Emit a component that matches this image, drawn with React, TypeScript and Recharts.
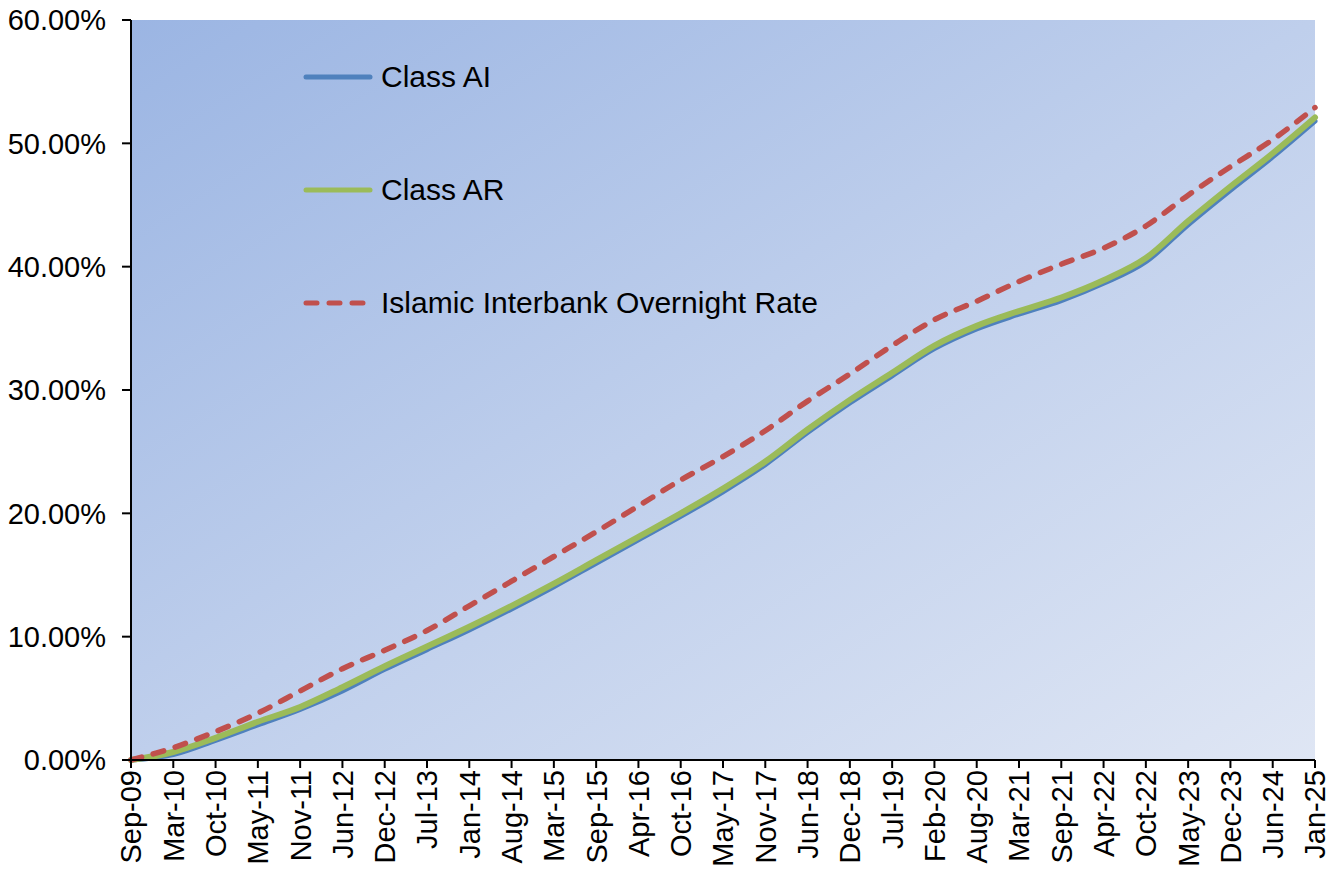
import { LineChart, Line, XAxis, YAxis, CartesianGrid, Legend } from "recharts";

const months = [
  "Sep-09", "Mar-10", "Oct-10", "May-11", "Nov-11", "Jun-12", "Dec-12", "Jul-13",
  "Jan-14", "Aug-14", "Mar-15", "Sep-15", "Apr-16", "Oct-16", "May-17", "Nov-17",
  "Jun-18", "Dec-18", "Jul-19", "Feb-20", "Aug-20", "Mar-21", "Sep-21", "Apr-22",
  "Oct-22", "May-23", "Dec-23", "Jun-24", "Jan-25",
];

// cumulative returns, in %
const classAI = [
  0, 0.45, 1.6, 2.85, 4.1, 5.6, 7.35, 8.95,
  10.55, 12.25, 14.05, 15.95, 17.85, 19.75, 21.75, 23.95,
  26.55, 28.95, 31.15, 33.35, 34.95, 36.15, 37.25, 38.65,
  40.4, 43.4, 46.2, 48.9, 51.8,
];

const classAR = [
  0, 0.65, 1.8, 3.1, 4.3, 5.9, 7.6, 9.2,
  10.8, 12.5, 14.3, 16.2, 18.1, 20.0, 22.0, 24.2,
  26.8, 29.2, 31.4, 33.6, 35.2, 36.4, 37.5, 38.9,
  40.7, 43.7, 46.5, 49.2, 52.1,
];

const iior = [
  0, 1.0, 2.3, 3.8, 5.6, 7.4, 8.9, 10.5,
  12.5, 14.5, 16.5, 18.5, 20.6, 22.7, 24.6, 26.7,
  29.1, 31.3, 33.6, 35.7, 37.2, 38.8, 40.2, 41.5,
  43.3, 45.8, 48.1, 50.3, 52.9,
];

const yTicks = [0, 10, 20, 30, 40, 50, 60];

const series = [
  { key: "ai", name: "Class AI", color: "#4f81bd", width: 5, dash: undefined },
  { key: "ar", name: "Class AR", color: "#9bbb59", width: 6, dash: undefined },
  { key: "iior", name: "Islamic Interbank Overnight Rate", color: "#c0504d", width: 5.5, dash: "11 12" },
];

const data = months.map((m, i) => ({
  month: m,
  ai: classAI[i],
  ar: classAR[i],
  iior: iior[i],
}));

const FONT = "'Liberation Sans', Arial, sans-serif";

function MonthTick(props: any) {
  const { x, y, payload } = props;
  return (
    <g transform={`translate(${x},${y})`}>
      <text
        transform="rotate(-90)"
        textAnchor="end"
        dy="0.36em"
        fontSize={29}
        fontFamily={FONT}
        fill="#000"
      >
        {payload.value}
      </text>
    </g>
  );
}

function LegendBox() {
  return (
    <div style={{ fontFamily: FONT, fontSize: 30, color: "#000" }}>
      {series.map((s) => (
        <div key={s.key} style={{ display: "flex", alignItems: "center", height: 32, marginBottom: 81 }}>
          <svg width={70} height={10}>
            <line
              x1={3}
              y1={5}
              x2={s.dash ? 63 : 67}
              y2={5}
              stroke={s.color}
              strokeWidth={5}
              strokeLinecap="round"
              strokeDasharray={s.dash}
            />
          </svg>
          <span style={{ marginLeft: 8, whiteSpace: "nowrap" }}>{s.name}</span>
        </div>
      ))}
    </div>
  );
}

export default function App() {
  return (
    <div style={{ position: "fixed", left: 0, top: 0, background: "#fff" }}>
      <LineChart
        width={1339}
        height={872}
        data={data}
        margin={{ top: 20, right: 24, left: 0, bottom: 0 }}
      >
        <defs>
          <linearGradient id="plotBg" x1="0" y1="0" x2="1" y2="1">
            <stop offset="0%" stopColor="#9bb5e3" />
            <stop offset="50%" stopColor="#bfcfec" />
            <stop offset="100%" stopColor="#dfe6f4" />
          </linearGradient>
        </defs>
        <CartesianGrid horizontal={false} vertical={false} fill="url(#plotBg)" />
        <XAxis
          dataKey="month"
          interval={0}
          height={112}
          tick={<MonthTick />}
          tickSize={8}
          tickMargin={2}
          axisLine={{ stroke: "#000", strokeWidth: 2 }}
          tickLine={{ stroke: "#000", strokeWidth: 2 }}
        />
        <YAxis
          width={131}
          domain={[0, 60]}
          ticks={yTicks}
          tickFormatter={(v: number) => `${v.toFixed(2)}%`}
          tickSize={9}
          tickMargin={16}
          tick={{ fill: "#000", fontSize: 29, fontFamily: FONT }}
          axisLine={{ stroke: "#000", strokeWidth: 2 }}
          tickLine={{ stroke: "#000", strokeWidth: 2 }}
        />
        <Legend
          layout="vertical"
          align="center"
          verticalAlign="middle"
          content={<LegendBox />}
          wrapperStyle={{ left: 303, top: 61, width: "auto" }}
        />
        {series.map((s) => (
          <Line
            key={s.key}
            type="monotone"
            dataKey={s.key}
            name={s.name}
            stroke={s.color}
            strokeWidth={s.width}
            strokeDasharray={s.dash}
            strokeLinecap="round"
            dot={false}
            activeDot={false}
            isAnimationActive={false}
          />
        ))}
      </LineChart>
    </div>
  );
}
